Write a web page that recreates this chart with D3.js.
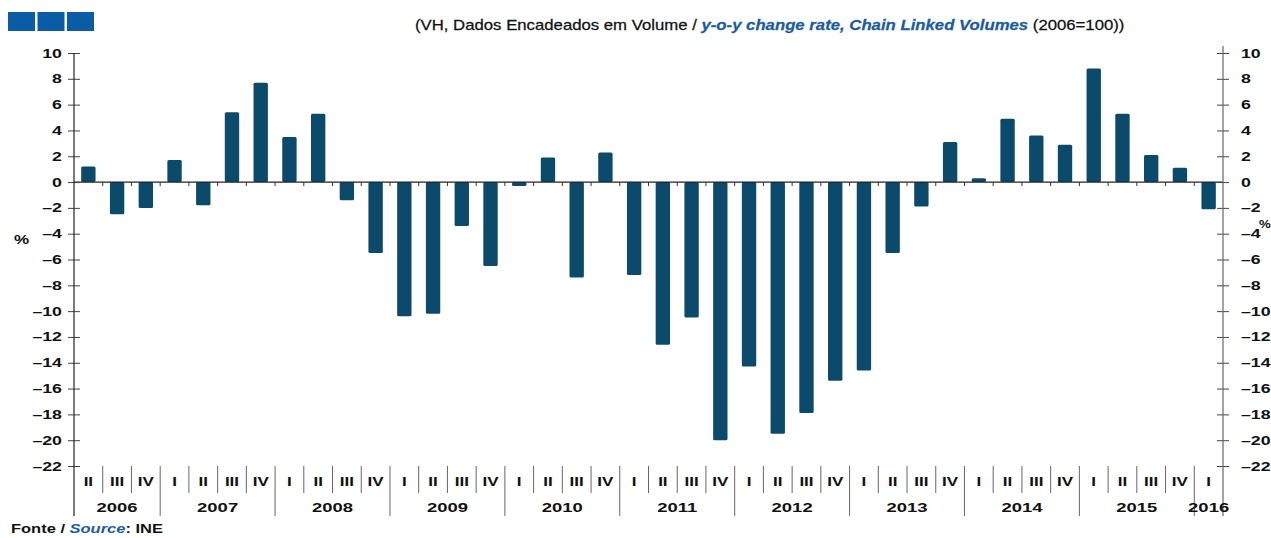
<!DOCTYPE html>
<html>
<head>
<meta charset="utf-8">
<script src="https://cdn.jsdelivr.net/npm/d3@7"></script>
<style>
  body { margin: 0; background: #fff; }
  svg { display: block; font-family: "Liberation Sans", Arial, sans-serif; }
</style>
</head>
<body>
<div id="chart"></div>
<script>
// quarterly y-o-y rates, 2006 Q2 .. 2016 Q1
const categories = [
  "2006 II", "2006 III", "2006 IV",
  "2007 I", "2007 II", "2007 III", "2007 IV",
  "2008 I", "2008 II", "2008 III", "2008 IV",
  "2009 I", "2009 II", "2009 III", "2009 IV",
  "2010 I", "2010 II", "2010 III", "2010 IV",
  "2011 I", "2011 II", "2011 III", "2011 IV",
  "2012 I", "2012 II", "2012 III", "2012 IV",
  "2013 I", "2013 II", "2013 III", "2013 IV",
  "2014 I", "2014 II", "2014 III", "2014 IV",
  "2015 I", "2015 II", "2015 III", "2015 IV",
  "2016 I"
];
const values = [
  1.2, -2.5, -2.0,
  1.7, -1.8, 5.4, 7.7,
  3.5, 5.3, -1.4, -5.5,
  -10.4, -10.2, -3.4, -6.5,
  -0.3, 1.9, -7.4, 2.3,
  -7.2, -12.6, -10.5, -20.0,
  -14.3, -19.5, -17.9, -15.4,
  -14.6, -5.5, -1.9, 3.1,
  0.3, 4.9, 3.6, 2.9,
  8.8, 5.3, 2.1, 1.1,
  -2.1
];
const years = ["2006", "2007", "2008", "2009", "2010", "2011", "2012", "2013", "2014", "2015", "2016"];
const yTicks = [10, 8, 6, 4, 2, 0, -2, -4, -6, -8, -10, -12, -14, -16, -18, -20, -22];

const width = 1271, height = 538;
const mLeft = 74, mRight = 1223, mTop = 53, mBottom = 466;
const barColor = "#0b4a6a";
const blue = "#1b5b9e";
const sx = 1.42; // the source image text is stretched horizontally

const svg = d3.select("#chart").append("svg")
    .attr("width", width)
    .attr("height", height);

const x = d3.scaleBand()
    .domain(categories)
    .range([mLeft, mRight])
    .paddingInner(0.5)
    .paddingOuter(0.25);

const y = d3.scaleLinear()
    .domain([-22, 10])
    .range([mBottom, mTop]);

const step = x.step();
const edge = i => mLeft + i * step;

// legend squares top-left
svg.selectAll(".sq")
    .data([0, 1, 2])
    .enter().append("rect")
    .attr("x", d => 8 + d * 29.5)
    .attr("y", 12)
    .attr("width", 27)
    .attr("height", 19)
    .attr("fill", "#0b5ca6");

// title
const title = svg.append("text")
    .attr("font-size", 14)
    .attr("fill", "#111")
    .attr("stroke", "#111").attr("stroke-width", 0.25);
title.append("tspan").text("(VH, Dados Encadeados em Volume / ");
title.append("tspan").attr("fill", blue).attr("stroke", blue).attr("font-weight", "bold").attr("font-style", "italic")
    .text("y-o-y change rate, Chain Linked Volumes");
title.append("tspan").text(" (2006=100))");
const tw = title.node().getComputedTextLength();
title.attr("transform", `translate(415,30) scale(${710 / tw},1)`);

// bars
svg.selectAll(".bar")
    .data(values)
    .enter().append("rect")
    .attr("class", "bar")
    .attr("x", (d, i) => x(categories[i]))
    .attr("width", x.bandwidth())
    .attr("y", d => y(Math.max(0, d)))
    .attr("height", d => Math.abs(y(d) - y(0)))
    .attr("rx", 1.5)
    .attr("fill", barColor);

// zero line with small ticks at boundaries
svg.append("line")
    .attr("x1", mLeft).attr("x2", mRight)
    .attr("y1", y(0)).attr("y2", y(0))
    .attr("stroke", "#222").attr("stroke-width", 1.2);
svg.selectAll(".zt")
    .data(d3.range(1, categories.length))
    .enter().append("line")
    .attr("x1", edge).attr("x2", edge)
    .attr("y1", y(0)).attr("y2", y(0) + 4)
    .attr("stroke", "#333");

const fmt = d => d < 0 ? "\u2013" + Math.abs(d) : d;

// left axis
const yl = svg.append("g")
    .attr("transform", `translate(${mLeft},0)`)
    .call(d3.axisLeft(y).tickValues(yTicks).tickSize(6).tickFormat(fmt));
yl.select(".domain").remove();
yl.selectAll(".tick line").attr("x2", 6).attr("x1", -6).attr("stroke", "#444");
yl.selectAll(".tick text")
    .attr("x", null)
    .attr("font-size", 12.5).attr("font-weight", "bold").attr("fill", "#111")
    .attr("font-family", "Liberation Sans, Arial, sans-serif")
    .attr("transform", `translate(-12,0) scale(${sx},1)`);

// right axis
const yr = svg.append("g")
    .attr("transform", `translate(${mRight},0)`)
    .call(d3.axisRight(y).tickValues(yTicks).tickSize(6).tickFormat(fmt));
yr.select(".domain").remove();
yr.selectAll(".tick line").attr("x2", 6).attr("x1", -6).attr("stroke", "#444");
yr.selectAll(".tick text")
    .attr("x", null)
    .attr("font-size", 12.5).attr("font-weight", "bold").attr("fill", "#111")
    .attr("font-family", "Liberation Sans, Arial, sans-serif")
    .attr("transform", `translate(18,0) scale(${sx},1)`);

// axis lines
svg.append("line")
    .attr("x1", mLeft).attr("x2", mLeft).attr("y1", mTop).attr("y2", 516)
    .attr("stroke", "#222").attr("stroke-width", 1.2);
svg.append("line")
    .attr("x1", mRight).attr("x2", mRight).attr("y1", 46).attr("y2", 516)
    .attr("stroke", "#666").attr("stroke-width", 1.2);

// % labels
svg.append("text").text("%")
    .attr("font-size", 12).attr("font-weight", "bold").attr("fill", "#111")
    .attr("transform", `translate(14,244) scale(${sx},1)`);
svg.append("text").text("%")
    .attr("font-size", 11).attr("font-weight", "bold").attr("fill", "#111")
    .attr("transform", `translate(1259,228) scale(1.2,1)`);

// category axis: quarter separators and labels
const qName = c => c.split(" ")[1];
const yName = c => c.split(" ")[0];
svg.selectAll(".qsep")
    .data(d3.range(1, categories.length))
    .enter().append("line")
    .attr("x1", edge).attr("x2", edge)
    .attr("y1", 466)
    .attr("y2", i => qName(categories[i]) === "I" ? 516 : 493)
    .attr("stroke", "#666");

svg.selectAll(".qlab")
    .data(categories)
    .enter().append("text")
    .text(qName)
    .attr("text-anchor", "middle")
    .attr("font-size", 12).attr("font-weight", "bold").attr("fill", "#111")
    .attr("transform", c => `translate(${x(c) + x.bandwidth() / 2},486) scale(${sx},1)`);

svg.selectAll(".ylab")
    .data(years)
    .enter().append("text")
    .text(d => d)
    .attr("text-anchor", "middle")
    .attr("font-size", 13).attr("font-weight", "bold").attr("fill", "#111")
    .attr("transform", yr0 => {
        const idx = categories.map((c, i) => yName(c) === yr0 ? i : -1).filter(i => i >= 0);
        const cx = (edge(idx[0]) + edge(idx[idx.length - 1] + 1)) / 2;
        return `translate(${cx},512) scale(${sx},1)`;
    });

// source note
const src = svg.append("text")
    .attr("font-size", 12).attr("font-weight", "bold").attr("fill", "#111");
src.append("tspan").text("Fonte / ");
src.append("tspan").attr("fill", blue).attr("font-style", "italic").text("Source");
src.append("tspan").text(": INE");
const sw = src.node().getComputedTextLength();
src.attr("transform", `translate(11,533) scale(${152 / sw},1)`);
</script>
</body>
</html>
